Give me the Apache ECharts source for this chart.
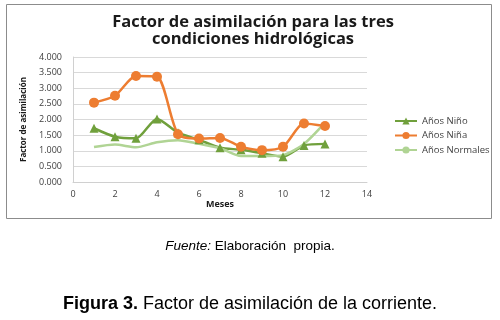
<!DOCTYPE html>
<html>
<head>
<meta charset="utf-8">
<script src="https://cdn.jsdelivr.net/npm/echarts@6/dist/echarts.min.js"></script>
<style>
  html, body { margin: 0; padding: 0; background: #fff; }
  #chart { width: 500px; height: 320px; }
</style>
</head>
<body>
<div id="chart"></div>
<script>
// meses 1..12
const meses = [1, 2, 3, 4, 5, 6, 7, 8, 9, 10, 11, 12];
const aniosNino = [1.72, 1.45, 1.40, 2.02, 1.58, 1.35, 1.10, 1.03, 0.92, 0.81, 1.17, 1.22];
const aniosNina = [2.54, 2.76, 3.39, 3.37, 1.53, 1.39, 1.41, 1.13, 1.02, 1.13, 1.87, 1.79];
const aniosNormales = [1.12, 1.20, 1.11, 1.27, 1.34, 1.22, 1.08, 0.83, 0.83, 0.86, 1.22, 1.90];

const pairs = (ys) => meses.map((m, i) => [m, ys[i]]);

const chart = echarts.init(document.getElementById('chart'));
chart.setOption({
  animation: false,
  textStyle: { fontFamily: 'Open Sans' },
  graphic: [
    {
      type: 'rect',
      shape: { x: 6.5, y: 4.5, width: 485, height: 214 },
      style: { fill: 'none', stroke: '#8c8c8c', lineWidth: 1 },
      silent: true,
    },
  ],
  title: [
    {
      text: 'Factor de asimilación para las tres\ncondiciones hidrológicas',
      left: 248,
      top: 9,
      textAlign: 'center',
      textStyle: { fontSize: 16.5, fontWeight: 'bold', color: '#1a1a1a', lineHeight: 17, fontFamily: 'Open Sans' },
    },
    {
      text: '{i|Fuente:} Elaboración  propia.',
      left: 'center',
      top: 234,
      textStyle: {
        rich: {
          i: { fontStyle: 'italic', fontSize: 13.5, color: '#000', fontFamily: 'Liberation Sans' },
        },
        fontSize: 13.5, fontWeight: 'normal', color: '#000', fontFamily: 'Liberation Sans',
      },
    },
    {
      text: '{b|Figura 3.} Factor de asimilación de la corriente.',
      left: 'center',
      top: 290,
      textStyle: {
        rich: {
          b: { fontWeight: 'bold', fontSize: 18, color: '#000', fontFamily: 'Liberation Sans' },
        },
        fontSize: 18, fontWeight: 'normal', color: '#000', fontFamily: 'Liberation Sans',
      },
    },
  ],
  legend: {
    orient: 'vertical',
    left: 389,
    top: 111,
    itemWidth: 22,
    itemHeight: 9,
    itemGap: 4.5,
    textStyle: { fontSize: 9.5, color: '#404040', fontFamily: 'Open Sans' },
    data: ['Años Niño', 'Años Niña', 'Años Normales'],
  },
  grid: { left: 73, right: 133, top: 57, bottom: 138 },
  xAxis: {
    type: 'value',
    min: 0,
    max: 14,
    interval: 2,
    name: 'Meses',
    nameLocation: 'middle',
    nameGap: 18,
    nameTextStyle: { fontSize: 9, fontWeight: 'bold', color: '#1a1a1a' },
    axisLine: { lineStyle: { color: '#d0d0d0' } },
    axisTick: { show: false },
    splitLine: { show: false },
    axisLabel: { fontSize: 9, color: '#404040', margin: 8 },
  },
  yAxis: {
    type: 'value',
    min: 0,
    max: 4,
    interval: 0.5,
    name: 'Factor de asimilación',
    nameLocation: 'middle',
    nameGap: 38,
    nameTextStyle: { fontSize: 8, fontWeight: 'bold', color: '#1a1a1a' },
    axisLine: { show: true, lineStyle: { color: '#d0d0d0' } },
    axisTick: { show: false },
    splitLine: { lineStyle: { color: '#d9d9d9' } },
    axisLabel: { fontSize: 9, color: '#404040', margin: 11, formatter: (v) => v.toFixed(3) },
  },
  series: [
    {
      name: 'Años Niño',
      type: 'line',
      smooth: 0.25,
      data: pairs(aniosNino),
      symbol: 'triangle',
      symbolSize: 9,
      lineStyle: { color: '#70a03c', width: 2.5 },
      itemStyle: { color: '#70a03c' },
    },
    {
      name: 'Años Niña',
      type: 'line',
      smooth: 0.25,
      data: pairs(aniosNina),
      symbol: 'circle',
      symbolSize: 10,
      lineStyle: { color: '#ed7d31', width: 2.5 },
      itemStyle: { color: '#ed7d31' },
    },
    {
      name: 'Años Normales',
      type: 'line',
      smooth: 0.25,
      data: pairs(aniosNormales),
      symbol: 'none',
      lineStyle: { color: '#b0d494', width: 2.5 },
      itemStyle: { color: '#b0d494' },
    },
  ],
});
</script>
</body>
</html>
